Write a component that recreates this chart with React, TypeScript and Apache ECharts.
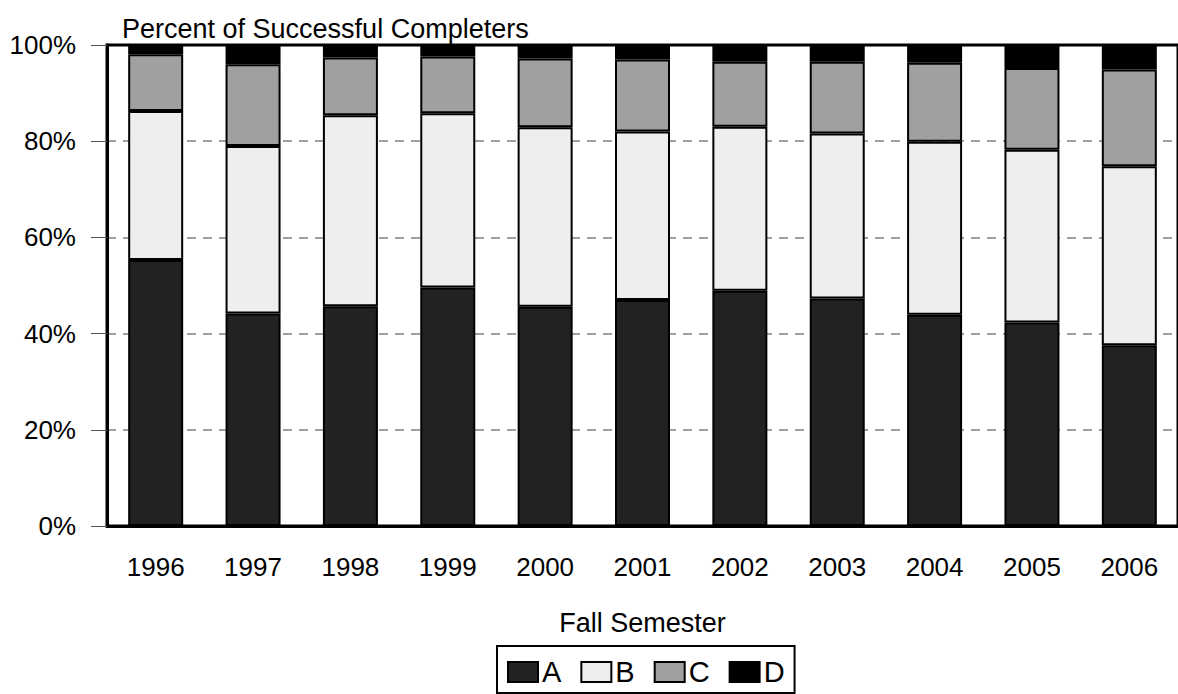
import React, { useEffect, useRef } from "react";
import * as echarts from "echarts";

const years = ["1996", "1997", "1998", "1999", "2000", "2001", "2002", "2003", "2004", "2005", "2006"];
const gradeA = [55.3, 44.2, 45.7, 49.6, 45.6, 47.0, 48.9, 47.3, 43.9, 42.3, 37.6];
const gradeB = [31.0, 34.8, 39.7, 36.2, 37.3, 35.0, 34.1, 34.3, 36.0, 35.9, 37.2];
const gradeC = [11.8, 17.0, 12.0, 11.8, 14.3, 15.0, 13.5, 14.9, 16.4, 17.0, 20.1];
const gradeD = [1.9, 4.0, 2.6, 2.4, 2.8, 3.0, 3.5, 3.5, 3.7, 4.8, 5.1];

const FONT = "'Liberation Sans', Arial, sans-serif";

export default function App() {
  const ref = useRef<HTMLDivElement>(null);
  useEffect(() => {
    document.body.style.margin = "0";
    document.body.style.overflow = "hidden";
    const chart = echarts.init(ref.current!, null, { renderer: "svg" });
    const mk = (name: string, data: number[], color: string) => ({
      name,
      type: "bar",
      stack: "total",
      data,
      barWidth: 55,
      itemStyle: { color, borderColor: "#000", borderWidth: 2 },
    });
    chart.setOption({
      animation: false,
      backgroundColor: "#fff",
      textStyle: { fontFamily: FONT },
      title: {
        text: "Percent of Successful Completers",
        left: 117,
        top: 10,
        textStyle: { fontFamily: FONT, fontSize: 27, fontWeight: "normal", color: "#000" },
      },
      grid: {
        left: 107,
        top: 45,
        right: -7,
        bottom: 168,
        show: true,
        borderColor: "#000",
        borderWidth: 3,
        backgroundColor: "transparent",
      },
      legend: {
        left: 497,
        top: 646,
        orient: "horizontal",
        itemWidth: 30,
        itemHeight: 20,
        itemGap: 19,
        icon: "rect",
        padding: [11, 10, 6, 10],
        borderColor: "#000",
        borderWidth: 2,
        backgroundColor: "#fff",
        textStyle: { fontFamily: FONT, fontSize: 29, lineHeight: 30, color: "#000", padding: [0, 0, 0, -1] },
        data: ["A", "B", "C", "D"],
      },
      xAxis: {
        type: "category",
        data: years,
        name: "Fall Semester",
        nameLocation: "middle",
        nameGap: 83,
        nameTextStyle: { fontFamily: FONT, fontSize: 27, color: "#000" },
        axisLine: { lineStyle: { color: "#000", width: 3 } },
        axisTick: { alignWithLabel: true, length: 16, lineStyle: { color: "#000", width: 1 } },
        axisLabel: { fontFamily: FONT, fontSize: 26, color: "#000", margin: 28 },
      },
      yAxis: {
        type: "value",
        min: 0,
        max: 100,
        interval: 20,
        axisLine: { show: true, lineStyle: { color: "#000", width: 3 } },
        axisTick: { show: true, length: 16, lineStyle: { color: "#555", width: 1 } },
        axisLabel: { fontFamily: FONT, fontSize: 26, color: "#000", margin: 31, formatter: "{value}%" },
        splitLine: {
          show: true,
          showMinLine: false,
          showMaxLine: false,
          lineStyle: { color: "#808080", width: 1.5, type: [9, 7] },
        },
      },
      series: [
        mk("A", gradeA, "#222222"),
        mk("B", gradeB, "#eeeeee"),
        mk("C", gradeC, "#a0a0a0"),
        mk("D", gradeD, "#000000"),
      ],
    });
    return () => chart.dispose();
  }, []);
  return <div ref={ref} style={{ width: 1178, height: 694 }} />;
}
